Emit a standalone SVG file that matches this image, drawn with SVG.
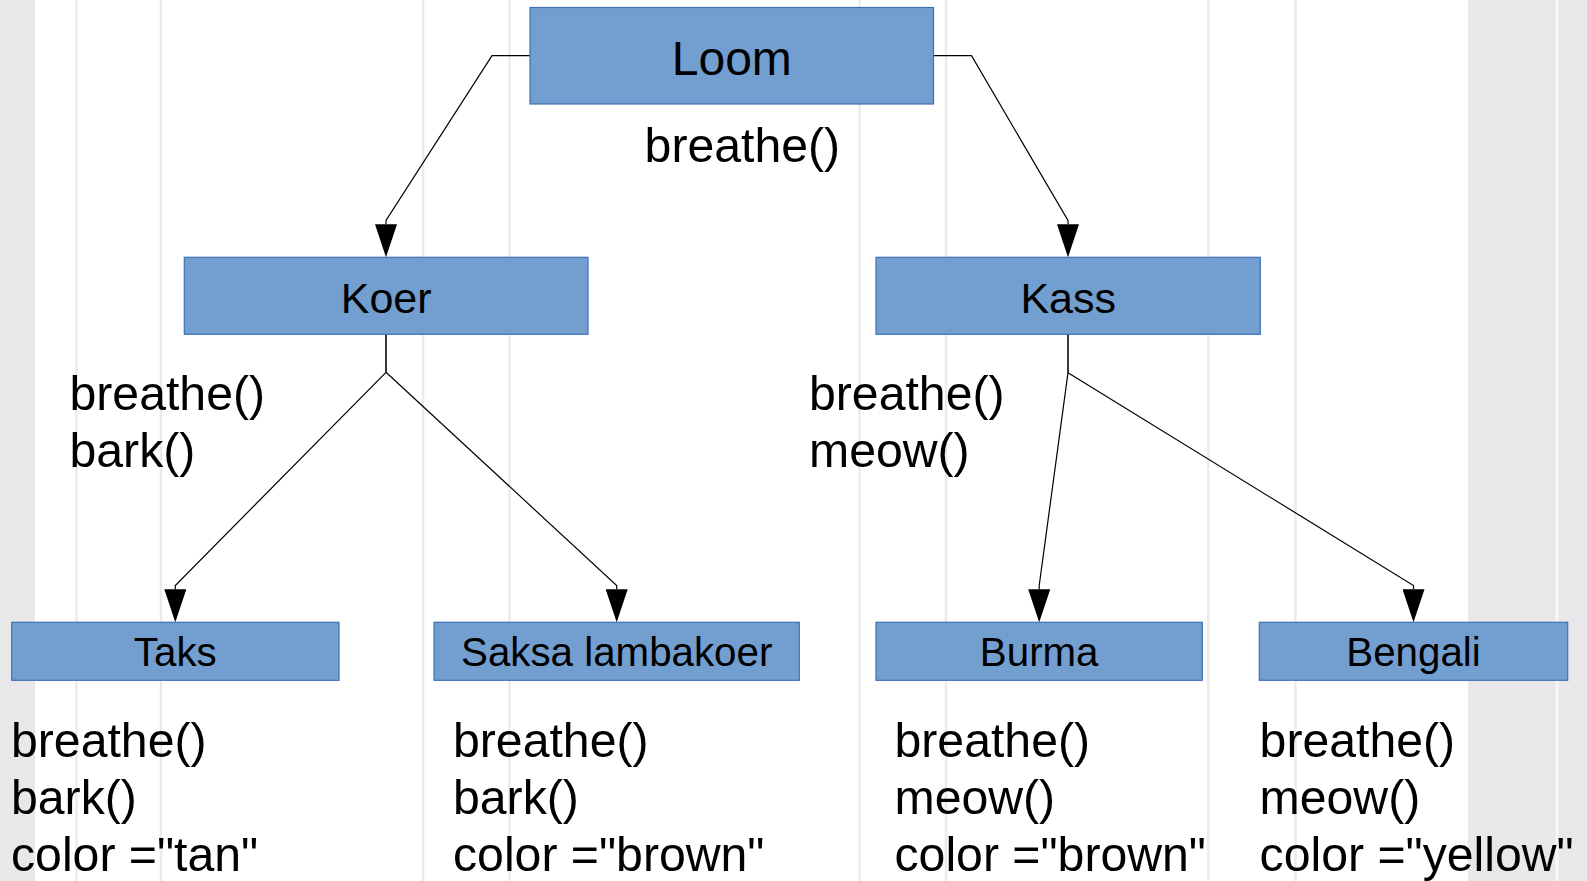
<svg xmlns="http://www.w3.org/2000/svg" width="1587" height="881" viewBox="0 0 1587 881">
<style>
.bg{fill:#ffffff}
.strip{fill:#e8e8ea}
.grid{stroke:#ebebeb;stroke-width:2.5}
.box{fill:#729fcf;stroke:#3f6fb5;stroke-width:1.2}
.t{font-family:"Liberation Sans",Arial,sans-serif;fill:#000}
.big{font-size:48px;text-anchor:middle}
.mid{font-size:43px;text-anchor:middle}
.sm{font-size:40.3px;text-anchor:middle}
.m{font-size:48.2px}
.c{fill:none;stroke:#000;stroke-width:1.2}
.stub{fill:none;stroke:#222;stroke-width:1.8}
</style>
<defs>
<marker id="ah" viewBox="0 0 33 22" refX="0" refY="11" markerWidth="33" markerHeight="22" markerUnits="userSpaceOnUse" orient="auto">
<path d="M0,0 L33,11 L0,22 Z" fill="#000"/>
</marker>
</defs>
<g id="background">
<rect class="bg" x="0" y="0" width="1587" height="881"/>
<rect class="strip" x="0" y="0" width="35" height="881"/>
<rect class="strip" x="1468" y="0" width="119" height="881"/>
<line class="grid" x1="76.5" y1="0" x2="76.5" y2="881"/>
<line class="grid" x1="161" y1="0" x2="161" y2="881"/>
<line class="grid" x1="423" y1="0" x2="423" y2="881"/>
<line class="grid" x1="509.5" y1="0" x2="509.5" y2="881"/>
<line class="grid" x1="859.5" y1="0" x2="859.5" y2="881"/>
<line class="grid" x1="946" y1="0" x2="946" y2="881"/>
<line class="grid" x1="1208.3" y1="0" x2="1208.3" y2="881"/>
<line class="grid" x1="1295.5" y1="0" x2="1295.5" y2="881"/>
<line x1="1557" y1="0" x2="1557" y2="881" stroke="#f7f7f7" stroke-width="3"/>
</g>
<g id="connectors">
<path class="c" d="M530,55.7 H492 L386,220.5 V224.3" marker-end="url(#ah)"/>
<path class="c" d="M933.7,55.7 H971.5 L1068,220.5 V224.3" marker-end="url(#ah)"/>
<path class="stub" d="M386,334.3 V372.3"/>
<path class="c" d="M386,372.3 L175.3,585.5 V589.3" marker-end="url(#ah)"/>
<path class="c" d="M386,372.3 L616.7,585.5 V589.3" marker-end="url(#ah)"/>
<path class="stub" d="M1068,334.3 V372.7"/>
<path class="c" d="M1068,372.7 L1039.2,585.5 V589.3" marker-end="url(#ah)"/>
<path class="c" d="M1068,372.7 L1413.5,585.5 V589.3" marker-end="url(#ah)"/>
</g>
<g id="node-loom">
<rect class="box" x="530" y="7.5" width="403.5" height="96.5"/>
<text class="t big" x="731.8" y="74.5">Loom</text>
<text class="t m" x="644.6" y="161.7">breathe()</text>
</g>
<g id="node-koer">
<rect class="box" x="184.3" y="257.3" width="403.7" height="77"/>
<text class="t mid" x="386.2" y="312.7">Koer</text>
<text class="t m" x="69.5" y="410">breathe()</text>
<text class="t m" x="69.5" y="467">bark()</text>
</g>
<g id="node-kass">
<rect class="box" x="876" y="257.3" width="384.3" height="77"/>
<text class="t mid" x="1068.2" y="312.7">Kass</text>
<text class="t m" x="809" y="410">breathe()</text>
<text class="t m" x="809" y="467">meow()</text>
</g>
<g id="node-taks">
<rect class="box" x="11.7" y="622.3" width="327.3" height="58"/>
<text class="t sm" x="175.3" y="665.7">Taks</text>
<text class="t m" x="11" y="757">breathe()</text>
<text class="t m" x="11" y="814">bark()</text>
<text class="t m" x="11" y="871">color ="tan"</text>
</g>
<g id="node-saksa">
<rect class="box" x="434" y="622.3" width="365.3" height="58"/>
<text class="t sm" x="616.7" y="665.7">Saksa lambakoer</text>
<text class="t m" x="453" y="757">breathe()</text>
<text class="t m" x="453" y="814">bark()</text>
<text class="t m" x="453" y="871">color ="brown"</text>
</g>
<g id="node-burma">
<rect class="box" x="876" y="622.3" width="326.3" height="58"/>
<text class="t sm" x="1039.2" y="665.7">Burma</text>
<text class="t m" x="894.5" y="757">breathe()</text>
<text class="t m" x="894.5" y="814">meow()</text>
<text class="t m" x="894.5" y="871">color ="brown"</text>
</g>
<g id="node-bengali">
<rect class="box" x="1259.3" y="622.3" width="308.4" height="58"/>
<text class="t sm" x="1413.5" y="665.7">Bengali</text>
<text class="t m" x="1259.6" y="757">breathe()</text>
<text class="t m" x="1259.6" y="814">meow()</text>
<text class="t m" x="1259.6" y="871">color ="yellow"</text>
</g>
</svg>
